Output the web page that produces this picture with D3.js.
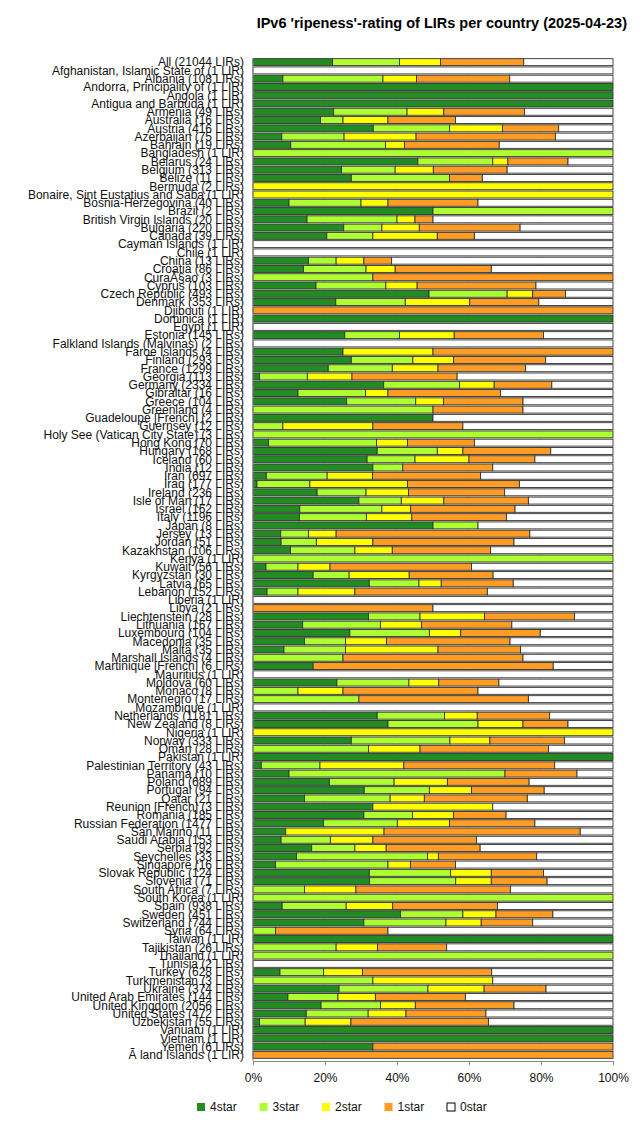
<!DOCTYPE html>
<html>
<head>
<meta charset="utf-8">
<script src="https://cdn.jsdelivr.net/npm/d3@7"></script>
<style>
  body { margin: 0; background: #fff; }
  text { font-family: "Liberation Sans", Arial, sans-serif; }
</style>
</head>
<body>
<svg width="642" height="1126"></svg>
<script>
const paises = [
  "All (21044 LIRs)", "Afghanistan, Islamic State of (1 LIR)", "Albania (108 LIRs)",
  "Andorra, Principality of (1 LIR)", "Angola (1 LIR)", "Antigua and Barbuda (1 LIR)",
  "Armenia (49 LIRs)", "Australia (16 LIRs)", "Austria (416 LIRs)", "Azerbaijan (75 LIRs)",
  "Bahrain (19 LIRs)", "Bangladesh (1 LIR)", "Belarus (24 LIRs)", "Belgium (313 LIRs)",
  "Belize (11 LIRs)", "Bermuda (2 LIRs)", "Bonaire, Sint Eustatius and Saba (1 LIR)",
  "Bosnia-Herzegovina (40 LIRs)", "Brazil (2 LIRs)", "British Virgin Islands (20 LIRs)",
  "Bulgaria (220 LIRs)", "Canada (39 LIRs)", "Cayman Islands (1 LIR)", "Chile (1 LIR)",
  "China (13 LIRs)", "Croatia (86 LIRs)", "CuraÃ§ao (3 LIRs)", "Cyprus (103 LIRs)",
  "Czech Republic (493 LIRs)", "Denmark (353 LIRs)", "Djibouti (1 LIR)", "Dominica (1 LIR)",
  "Egypt (1 LIR)", "Estonia (145 LIRs)", "Falkland Islands (Malvinas) (2 LIRs)",
  "Faroe Islands (4 LIRs)", "Finland (293 LIRs)", "France (1299 LIRs)", "Georgia (113 LIRs)",
  "Germany (2334 LIRs)", "Gibraltar (16 LIRs)", "Greece (104 LIRs)", "Greenland (4 LIRs)",
  "Guadeloupe [French] (2 LIRs)", "Guernsey (12 LIRs)", "Holy See (Vatican City State) (3 LIRs)",
  "Hong Kong (70 LIRs)", "Hungary (168 LIRs)", "Iceland (60 LIRs)", "India (12 LIRs)",
  "Iran (697 LIRs)", "Iraq (177 LIRs)", "Ireland (236 LIRs)", "Isle of Man (17 LIRs)",
  "Israel (162 LIRs)", "Italy (1196 LIRs)", "Japan (8 LIRs)", "Jersey (13 LIRs)",
  "Jordan (51 LIRs)", "Kazakhstan (106 LIRs)", "Kenya (1 LIR)", "Kuwait (56 LIRs)",
  "Kyrgyzstan (30 LIRs)", "Latvia (65 LIRs)", "Lebanon (152 LIRs)", "Liberia (1 LIR)",
  "Libya (2 LIRs)", "Liechtenstein (28 LIRs)", "Lithuania (167 LIRs)", "Luxembourg (104 LIRs)",
  "Macedonia (35 LIRs)", "Malta (35 LIRs)", "Marshall Islands (4 LIRs)",
  "Martinique [French] (6 LIRs)", "Mauritius (1 LIR)", "Moldova (60 LIRs)", "Monaco (8 LIRs)",
  "Montenegro (17 LIRs)", "Mozambique (1 LIR)", "Netherlands (1181 LIRs)",
  "New Zealand (8 LIRs)", "Nigeria (1 LIR)", "Norway (333 LIRs)", "Oman (28 LIRs)",
  "Pakistan (1 LIR)", "Palestinian Territory (43 LIRs)", "Panama (10 LIRs)",
  "Poland (689 LIRs)", "Portugal (94 LIRs)", "Qatar (21 LIRs)", "Reunion [French] (3 LIRs)",
  "Romania (185 LIRs)", "Russian Federation (1477 LIRs)", "San Marino (11 LIRs)",
  "Saudi Arabia (153 LIRs)", "Serbia (92 LIRs)", "Seychelles (33 LIRs)", "Singapore (16 LIRs)",
  "Slovak Republic (124 LIRs)", "Slovenia (71 LIRs)", "South Africa (7 LIRs)",
  "South Korea (1 LIR)", "Spain (938 LIRs)", "Sweden (451 LIRs)", "Switzerland (744 LIRs)",
  "Syria (64 LIRs)", "Taiwan (1 LIR)", "Tajikistan (26 LIRs)", "Thailand (1 LIR)",
  "Tunisia (2 LIRs)", "Turkey (628 LIRs)", "Turkmenistan (3 LIRs)", "Ukraine (374 LIRs)",
  "United Arab Emirates (144 LIRs)", "United Kingdom (2056 LIRs)", "United States (472 LIRs)",
  "Uzbekistan (55 LIRs)", "Vanuatu (1 LIR)", "Vietnam (1 LIR)", "Yemen (6 LIRs)",
  "Ã land Islands (1 LIR)"
];

// percentages per rating, same order as paises
const star4 = [
  22.1, 0, 8.3, 100, 100, 100, 22.4, 18.75, 33.4, 8.0,
  10.5, 0, 45.8, 24.6, 27.3, 0, 0, 10, 50, 15,
  25.2, 20.5, 0, 0, 15.4, 14.0, 0, 17.5, 48.9, 23.0,
  0, 100, 0, 25.5, 0, 25, 27.3, 20.9, 1.8, 36.3,
  12.5, 26.0, 0, 50, 0, 0, 4.3, 34.5, 31.7, 33.3,
  3.7, 1.1, 17.8, 29.4, 13.0, 12.9, 50, 7.7, 7.8, 10.4,
  0, 3.6, 16.7, 32.3, 3.9, 0, 0, 32.1, 13.8, 26.9,
  14.3, 8.6, 0, 16.7, 0, 23.3, 0, 0, 0, 34.5,
  37.5, 0, 27.3, 0, 100, 2.3, 10, 21.2, 30.9, 14.3,
  33.3, 30.8, 19.6, 9.1, 7.8, 16.3, 12.1, 6.25, 32.3, 32.4,
  0, 0, 8.1, 41.0, 30.8, 0, 100, 0, 0, 0,
  7.5, 0, 23.9, 9.7, 18.9, 14.8, 1.8, 100, 100, 33.3,
  0
];
const star3 = [
  18.6, 0, 27.8, 0, 0, 0, 20.4, 6.25, 21.2, 17.3,
  26.3, 100, 20.8, 14.9, 27.3, 0, 0, 20, 50, 25,
  10.6, 12.8, 0, 0, 7.7, 17.4, 33.3, 19.4, 21.7, 19.3,
  0, 0, 0, 15.2, 0, 0, 17.1, 17.8, 13.3, 21.1,
  18.75, 19.2, 50, 0, 8.3, 100, 30.0, 16.7, 13.3, 8.3,
  16.9, 14.7, 13.6, 11.8, 22.8, 18.6, 12.5, 7.7, 9.8, 17.9,
  100, 8.9, 10.0, 13.8, 8.6, 0, 0, 14.3, 21.6, 22.1,
  11.4, 17.1, 25, 0, 0, 20.0, 12.5, 29.4, 0, 18.7,
  25, 0, 27.4, 32.1, 0, 16.3, 60, 18.0, 18.1, 23.8,
  0, 13.5, 20.5, 0, 13.7, 12.0, 36.4, 31.25, 22.6, 23.9,
  14.3, 100, 17.8, 17.3, 22.8, 6.25, 0, 23.1, 100, 0,
  12.1, 33.3, 24.7, 13.9, 16.5, 17.2, 12.7, 0, 0, 0,
  0
];
const star2 = [
  11.4, 0, 9.3, 0, 0, 0, 10.2, 12.5, 14.7, 20.0,
  5.3, 0, 4.2, 10.6, 0, 100, 100, 7.5, 0, 5,
  10.4, 17.9, 0, 0, 7.7, 8.1, 0, 8.7, 7.1, 17.9,
  0, 0, 0, 15.2, 0, 25, 11.3, 12.7, 12.4, 9.6,
  6.25, 7.7, 0, 0, 25, 0, 8.6, 7.1, 15.0, 0,
  12.6, 27.1, 11.8, 11.8, 8.0, 12.6, 0, 7.7, 15.7, 10.4,
  0, 8.9, 16.7, 6.2, 15.8, 0, 0, 17.9, 11.4, 8.7,
  11.4, 25.7, 0, 0, 0, 8.3, 12.5, 0, 0, 9.1,
  12.5, 100, 11.1, 14.3, 0, 23.3, 0, 14.8, 11.7, 9.5,
  33.3, 11.4, 14.5, 27.3, 11.8, 8.7, 3.0, 6.25, 11.3, 9.9,
  14.3, 0, 12.9, 9.2, 9.8, 0, 0, 11.5, 0, 0,
  10.8, 33.3, 15.6, 10.4, 9.7, 10.5, 12.7, 0, 0, 0,
  0
];
const star1 = [
  23.1, 0, 25.9, 0, 0, 0, 22.4, 18.75, 15.6, 38.7,
  26.3, 0, 16.7, 20.5, 9.1, 0, 0, 25, 0, 5,
  28.0, 10.3, 0, 0, 7.7, 26.7, 66.7, 33.0, 9.1, 19.2,
  100, 0, 0, 24.8, 0, 50, 25.6, 24.3, 29.2, 16.0,
  31.25, 22.1, 25, 0, 25, 0, 18.6, 24.4, 18.3, 25.0,
  30.0, 31.1, 26.7, 23.5, 29.0, 26.3, 0, 53.8, 39.2, 27.3,
  0, 39.3, 23.3, 20.0, 36.8, 0, 50, 25.0, 25.1, 22.1,
  34.3, 22.9, 50, 66.7, 0, 16.7, 37.5, 47.1, 0, 20.1,
  12.5, 0, 20.7, 35.7, 0, 41.9, 20, 22.7, 20.2, 28.6,
  0, 14.6, 23.7, 54.5, 28.8, 26.1, 27.3, 12.5, 14.5, 15.5,
  42.9, 0, 29.1, 15.8, 14.3, 31.25, 0, 19.2, 0, 0,
  35.9, 0, 17.2, 25.0, 27.4, 22.2, 38.2, 0, 0, 66.7,
  100
];
const star0 = [
  24.8, 100, 28.7, 0, 0, 0, 24.6, 43.75, 15.1, 16.0,
  31.6, 0, 12.5, 29.4, 36.3, 0, 0, 37.5, 0, 50,
  25.8, 38.5, 100, 100, 61.5, 33.8, 0, 21.4, 13.2, 20.6,
  0, 0, 100, 19.3, 100, 0, 18.7, 24.3, 43.3, 17.0,
  31.25, 25.0, 25, 50, 41.7, 0, 38.5, 17.3, 21.7, 33.4,
  36.8, 26.0, 30.1, 23.5, 27.2, 29.6, 37.5, 23.1, 27.5, 34.0,
  0, 39.3, 33.3, 27.7, 34.9, 100, 50, 10.7, 28.1, 20.2,
  28.6, 25.7, 25, 16.6, 100, 31.7, 37.5, 23.5, 100, 17.6,
  12.5, 0, 13.5, 17.9, 0, 16.2, 10, 23.3, 19.1, 23.8,
  33.4, 29.7, 21.7, 9.1, 37.9, 36.9, 21.2, 43.75, 19.3, 18.3,
  28.5, 0, 32.1, 16.7, 22.3, 62.5, 0, 46.2, 0, 100,
  33.7, 33.4, 18.6, 41.0, 27.5, 35.3, 34.6, 0, 0, 0,
  0
];

const claves = ["4star", "3star", "2star", "1star", "0star"];
const colores = ["#228b22", "#adff2f", "#ffff00", "#ff9c24", "#ffffff"];
const ticks = [0, 20, 40, 60, 80, 100];

const svg = d3.select("svg");
const izq = 253, der = 613, arriba = 58, abajo = 1059;

const filas = paises.map((p, i) => ({
  pais: p, "4star": star4[i], "3star": star3[i], "2star": star2[i], "1star": star1[i], "0star": star0[i]
}));
const pilas = d3.stack().keys(claves)(filas);

const x = d3.scaleLinear().domain([0, 100]).range([izq, der]);
const y = d3.scaleBand().domain(paises).range([arriba, abajo]).paddingInner(0.16).paddingOuter(0.08);
const color = d3.scaleOrdinal().domain(claves).range(colores);

// titulo
svg.append("text")
  .attr("x", 627).attr("y", 28)
  .attr("text-anchor", "end")
  .attr("font-size", 14.5).attr("font-weight", "bold")
  .text("IPv6 'ripeness'-rating of LIRs per country (2025-04-23)");

// lineas de la rejilla
svg.append("g")
  .selectAll("line")
  .data(ticks.slice(1, -1))
  .enter().append("line")
  .attr("x1", d => x(d)).attr("x2", d => x(d))
  .attr("y1", arriba).attr("y2", abajo)
  .attr("stroke", "#d8d8d8");

// etiquetas de paises
svg.append("g")
  .selectAll("text")
  .data(paises)
  .enter().append("text")
  .attr("x", izq - 9)
  .attr("y", d => y(d) + y.bandwidth() / 2)
  .attr("dy", "0.36em")
  .attr("text-anchor", "end")
  .attr("font-size", 12)
  .attr("fill", "#111")
  .text(d => d);

// barras apiladas
svg.append("g")
  .selectAll("g")
  .data(pilas)
  .enter().append("g")
  .attr("fill", d => color(d.key))
  .selectAll("rect")
  .data(d => d)
  .enter().append("rect")
  .attr("x", d => x(d[0]))
  .attr("y", d => y(d.data.pais))
  .attr("width", d => x(d[1]) - x(d[0]))
  .attr("height", y.bandwidth())
  .attr("stroke", "#333")
  .attr("stroke-width", 0.9);

// eje x
const ejeX = svg.append("g")
  .attr("transform", `translate(0,${abajo + 2})`)
  .call(d3.axisBottom(x).tickValues(ticks).tickFormat(d => d + "%").tickSize(4).tickSizeOuter(0).tickPadding(8));
ejeX.select(".domain").attr("stroke", "#888");
ejeX.selectAll(".tick line").attr("stroke", "#888");
ejeX.selectAll("text").attr("font-size", 12).attr("font-family", "Liberation Sans, Arial, sans-serif").attr("fill", "#111");

svg.append("line")
  .attr("x1", izq).attr("x2", izq)
  .attr("y1", arriba).attr("y2", abajo + 2)
  .attr("stroke", "#888");

// leyenda
const leyenda = svg.append("g")
  .selectAll("g")
  .data(claves)
  .enter().append("g")
  .attr("transform", (d, i) => `translate(${197 + i * 62.5},1107)`);

leyenda.append("rect")
  .attr("x", 0).attr("y", -4)
  .attr("width", 8).attr("height", 8)
  .attr("fill", d => color(d))
  .attr("stroke", d => d == "0star" ? "#000" : "none");

leyenda.append("text")
  .attr("x", 13).attr("dy", "0.35em")
  .attr("font-size", 12)
  .attr("fill", "#111")
  .text(d => d);
</script>
</body>
</html>
